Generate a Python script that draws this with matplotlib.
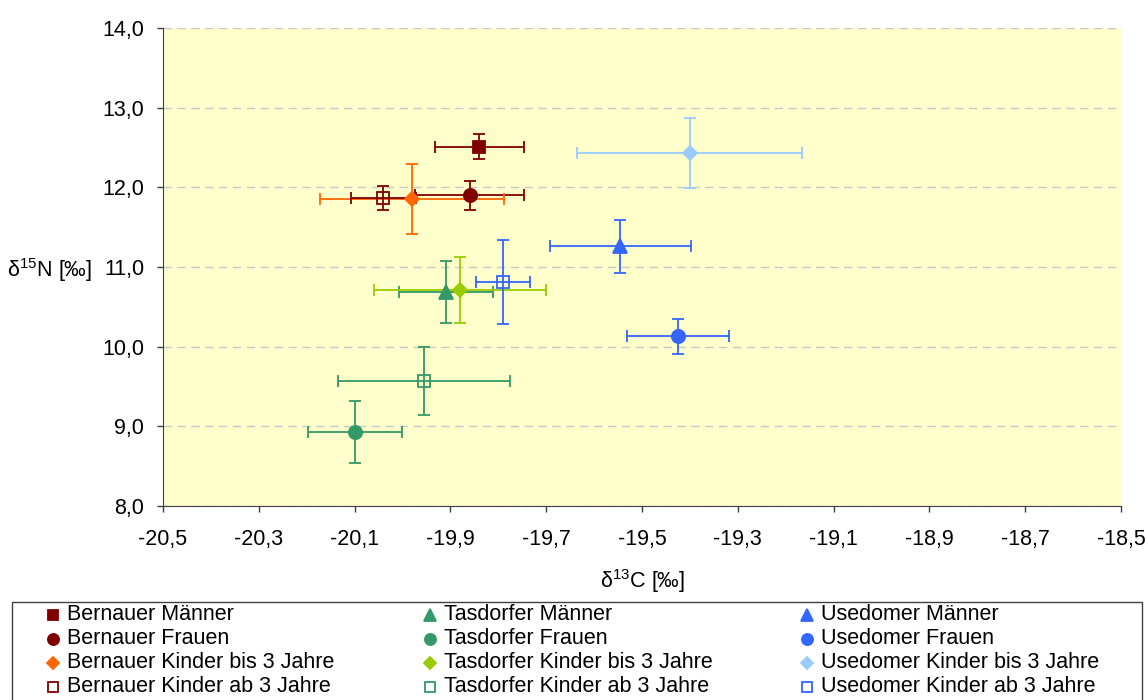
import matplotlib
matplotlib.use("Agg")
import matplotlib.pyplot as plt
from matplotlib.lines import Line2D
from matplotlib.patches import Rectangle
from matplotlib.ticker import FuncFormatter

plt.rcParams['font.family'] = ['Liberation Sans', 'DejaVu Sans']
plt.rcParams['mathtext.fontset'] = 'custom'
plt.rcParams['mathtext.rm'] = 'Liberation Sans'

# series: label, d13C, d15N, err d13C, err d15N
labels = ["Bernauer Männer", "Bernauer Frauen", "Bernauer Kinder bis 3 Jahre", "Bernauer Kinder ab 3 Jahre",
          "Tasdorfer Männer", "Tasdorfer Frauen", "Tasdorfer Kinder bis 3 Jahre", "Tasdorfer Kinder ab 3 Jahre",
          "Usedomer Männer", "Usedomer Frauen", "Usedomer Kinder bis 3 Jahre", "Usedomer Kinder ab 3 Jahre"]
d13c = [-19.84, -19.86, -19.98, -20.04,
        -19.91, -20.10, -19.88, -19.955,
        -19.545, -19.425, -19.40, -19.79]
d15n = [12.51, 11.90, 11.85, 11.87,
        10.69, 8.93, 10.71, 9.57,
        11.26, 10.13, 12.43, 10.81]
err_c = [0.093, 0.114, 0.192, 0.068,
         0.098, 0.098, 0.180, 0.180,
         0.148, 0.106, 0.235, 0.056]
err_n = [0.16, 0.18, 0.44, 0.15,
         0.39, 0.39, 0.41, 0.43,
         0.33, 0.22, 0.44, 0.53]

colors = ["#800000", "#800000", "#FF6600", "#800000",
          "#339966", "#339966", "#99CC00", "#339966",
          "#3366FF", "#3366FF", "#99CCFF", "#3366FF"]
markers = ["s", "o", "D", "s", "^", "o", "D", "s", "^", "o", "D", "s"]
filled = [True, True, True, False] * 3
sizes = [9, 9.5, 7, 8.5, 10, 9.5, 7, 8.5, 10, 9.5, 7, 8.5]

FS = 15.5
W, H = 1148, 700
fig = plt.figure(figsize=(W / 100, H / 100), dpi=100)
ax = fig.add_axes([163 / W, 1 - 506 / H, 958 / W, 478 / H])
ax.set_facecolor("#FFFFCC")

for i in range(len(labels)):
    ax.errorbar(d13c[i], d15n[i], xerr=err_c[i], yerr=err_n[i], fmt="none",
                ecolor=colors[i], elinewidth=1.3, capsize=4, capthick=1.3, zorder=3)
    ax.plot(d13c[i], d15n[i], linestyle="none", marker=markers[i], markersize=sizes[i],
            markerfacecolor=colors[i] if filled[i] else "none",
            markeredgecolor=colors[i], markeredgewidth=1.3, zorder=4)

ax.set_xlim(-20.5, -18.5)
ax.set_ylim(8.0, 14.0)
ax.set_xticks([-20.5 + 0.2 * k for k in range(11)])
ax.set_yticks([8, 9, 10, 11, 12, 13, 14])
fmt = FuncFormatter(lambda v, p: f"{v:.1f}".replace(".", ","))
ax.xaxis.set_major_formatter(fmt)
ax.yaxis.set_major_formatter(fmt)
ax.tick_params(labelsize=FS, length=4.5, width=1, color="#404040")
ax.tick_params(axis="x", pad=12)
ax.tick_params(axis="y", pad=9)
ax.grid(axis="y", linestyle=(0, (6, 4)), color="#C8C8C8", linewidth=1)
ax.set_axisbelow(True)
for s in ["top", "right"]:
    ax.spines[s].set_visible(False)
for s in ["left", "bottom"]:
    ax.spines[s].set_color("#404040")

fig.text(642 / W, 1 - 581 / H, r"δ$^{13}$C [‰]", fontsize=FS, va="center", ha="center")
fig.text(7 / W, 1 - 270 / H, r"δ$^{15}$N [‰]", fontsize=FS, va="center", ha="left")

# legend box: three columns (Bernauer / Tasdorfer / Usedomer), runs off the bottom edge
fig.add_artist(Rectangle((12 / W, -0.1), 1130 / W, 0.1 + (H - 602) / H,
                         transform=fig.transFigure, facecolor="white",
                         edgecolor="#404040", linewidth=1.0))
col_x = [53, 430, 807]
row_y = [615, 639, 663, 687]
for i in range(len(labels)):
    c, r = divmod(i, 4)
    mx = col_x[c] / W
    my = 1 - row_y[r] / H
    ms = 7.5 if markers[i] == "s" else (8 if markers[i] in "o^" else 6)
    fig.add_artist(Line2D([mx], [my], transform=fig.transFigure, linestyle="none",
                          marker=markers[i], markersize=ms,
                          markerfacecolor=colors[i] if filled[i] else "none",
                          markeredgecolor=colors[i], markeredgewidth=1.3))
    fig.text(mx + 14 / W, my, labels[i], fontsize=FS, va="center", ha="left")

fig.savefig("out.png", dpi=100)
